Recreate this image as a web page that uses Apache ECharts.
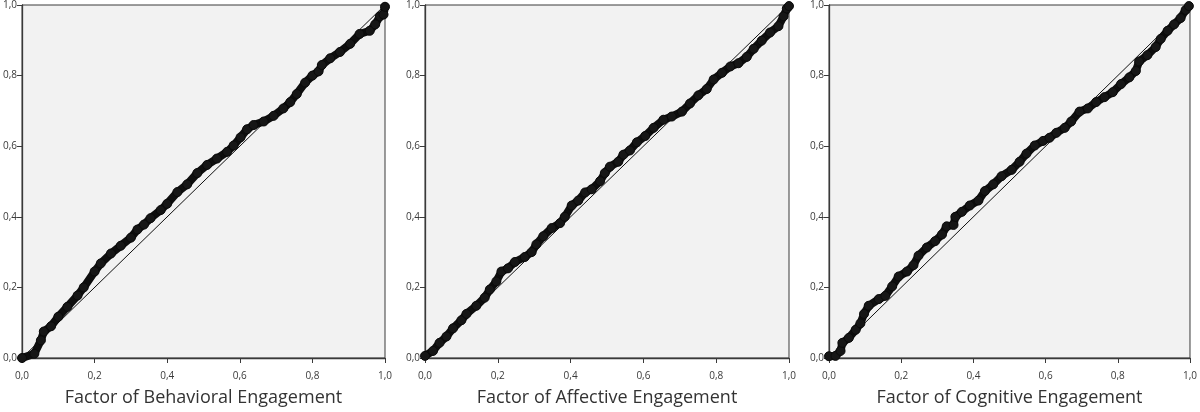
<!DOCTYPE html>
<html>
<head>
<meta charset="utf-8">
<script src="https://cdn.jsdelivr.net/npm/echarts@6/dist/echarts.min.js"></script>
<style>
html,body{margin:0;padding:0;background:#fff;}
#chart{width:1200px;height:412px;}
</style>
</head>
<body>
<div id="chart"></div>
<script>
var panelTitles = ['Factor of Behavioral Engagement', 'Factor of Affective Engagement', 'Factor of Cognitive Engagement'];
var tickValues = [0, 0.2, 0.4, 0.6, 0.8, 1.0];
var diagonal = [[0, 0], [1, 1]];

var behavioralPoints = [
  [0.0,0.0],[0.034,0.012],[0.052,0.05],[0.06,0.075],[0.08,0.09],[0.10,0.117],[0.125,0.145],
  [0.153,0.177],[0.17,0.2],[0.20,0.245],[0.217,0.268],[0.245,0.296],[0.272,0.318],[0.30,0.341],
  [0.318,0.364],[0.336,0.378],[0.354,0.396],[0.382,0.419],[0.40,0.437],[0.428,0.47],[0.455,0.492],
  [0.483,0.524],[0.51,0.547],[0.537,0.565],[0.565,0.584],[0.583,0.602],[0.602,0.625],[0.62,0.648],
  [0.638,0.66],[0.666,0.67],[0.693,0.686],[0.72,0.707],[0.739,0.725],[0.757,0.748],[0.78,0.78],
  [0.80,0.80],[0.817,0.812],[0.826,0.83],[0.849,0.849],[0.876,0.867],[0.904,0.89],[0.93,0.918],
  [0.958,0.927],[0.973,0.945],[0.986,0.968],[0.996,0.973],[1.0,0.995]
];
var affectivePoints = [
  [0.0,0.006],[0.022,0.02],[0.04,0.043],[0.059,0.061],[0.077,0.084],[0.10,0.107],[0.114,0.125],
  [0.141,0.148],[0.164,0.171],[0.178,0.194],[0.196,0.217],[0.21,0.245],[0.228,0.254],[0.247,0.272],
  [0.274,0.286],[0.293,0.30],[0.306,0.322],[0.325,0.345],[0.348,0.368],[0.371,0.382],[0.384,0.40],
  [0.403,0.432],[0.421,0.446],[0.44,0.469],[0.458,0.478],[0.481,0.501],[0.494,0.524],[0.508,0.542],
  [0.531,0.556],[0.545,0.576],[0.563,0.588],[0.582,0.611],[0.605,0.629],[0.628,0.652],[0.655,0.675],
  [0.678,0.684],[0.706,0.698],[0.728,0.721],[0.751,0.744],[0.774,0.762],[0.793,0.789],[0.816,0.808],
  [0.839,0.826],[0.861,0.835],[0.884,0.853],[0.903,0.876],[0.925,0.899],[0.948,0.922],[0.971,0.94],
  [0.985,0.968],[0.994,0.99],[1.0,0.997]
];
var cognitivePoints = [
  [0.0,0.005],[0.018,0.006],[0.032,0.02],[0.037,0.043],[0.055,0.057],[0.074,0.08],[0.087,0.098],
  [0.097,0.125],[0.11,0.148],[0.138,0.167],[0.156,0.176],[0.175,0.203],[0.193,0.231],[0.216,0.245],
  [0.234,0.263],[0.248,0.29],[0.271,0.313],[0.294,0.331],[0.313,0.35],[0.326,0.373],[0.345,0.377],
  [0.35,0.40],[0.368,0.414],[0.39,0.432],[0.414,0.446],[0.432,0.473],[0.455,0.492],[0.478,0.515],
  [0.506,0.533],[0.528,0.556],[0.547,0.579],[0.57,0.602],[0.593,0.615],[0.611,0.624],[0.63,0.638],
  [0.653,0.652],[0.671,0.67],[0.694,0.698],[0.717,0.707],[0.74,0.725],[0.763,0.739],[0.786,0.753],
  [0.809,0.776],[0.832,0.795],[0.85,0.813],[0.859,0.84],[0.882,0.858],[0.905,0.881],[0.919,0.904],
  [0.938,0.927],[0.956,0.945],[0.974,0.963],[0.988,0.986],[0.997,0.997]
];

var panelData = [behavioralPoints, affectivePoints, cognitivePoints];
var gridLefts = [21, 425, 829];
var gridWidths = [364, 364, 363];

function fmt(v) { return v.toFixed(1).replace('.', ','); }

var grids = [], xAxes = [], yAxes = [], series = [];
for (var i = 0; i < 3; i++) {
  grids.push({
    left: gridLefts[i], top: 2, width: gridWidths[i], height: 363,
    show: true, backgroundColor: '#f2f2f2', borderColor: '#3a3a3a', borderWidth: 1
  });
  var axisCommon = {
    gridIndex: i, type: 'value', min: 0, max: 1, interval: 0.2,
    axisLine: { show: true, lineStyle: { color: '#3a3a3a', width: 1.3 } },
    axisTick: { show: true, length: 5, lineStyle: { color: '#3a3a3a', width: 1 } },
    splitLine: { show: false },
    axisLabel: { formatter: fmt, color: '#3a3a3a', fontSize: 10, fontFamily: 'Open Sans', margin: 6 }
  };
  xAxes.push(Object.assign({}, axisCommon, {
    name: panelTitles[i], nameLocation: 'middle', nameGap: 31,
    nameTextStyle: { fontSize: 18, color: '#333', fontFamily: 'Open Sans' },
    axisLabel: Object.assign({}, axisCommon.axisLabel, { margin: 13 })
  }));
  yAxes.push(Object.assign({}, axisCommon, {
    axisLabel: Object.assign({}, axisCommon.axisLabel, { margin: 5 })
  }));
  series.push({
    type: 'line', xAxisIndex: i, yAxisIndex: i, data: diagonal,
    symbol: 'none', lineStyle: { color: '#111', width: 1 }, z: 2, silent: true
  });
  series.push({
    type: 'line', xAxisIndex: i, yAxisIndex: i, data: panelData[i],
    showAllSymbol: true, symbol: 'circle', symbolSize: 9,
    lineStyle: { color: '#0e0e0e', width: 8, cap: 'round', join: 'round' },
    itemStyle: { color: '#161616', borderColor: '#0a0a0a', borderWidth: 1 },
    z: 3, silent: true
  });
}

var chart = echarts.init(document.getElementById('chart'), null, { renderer: 'canvas' });
chart.setOption({
  animation: false,
  grid: grids,
  xAxis: xAxes,
  yAxis: yAxes,
  series: series
});
</script>
</body>
</html>
